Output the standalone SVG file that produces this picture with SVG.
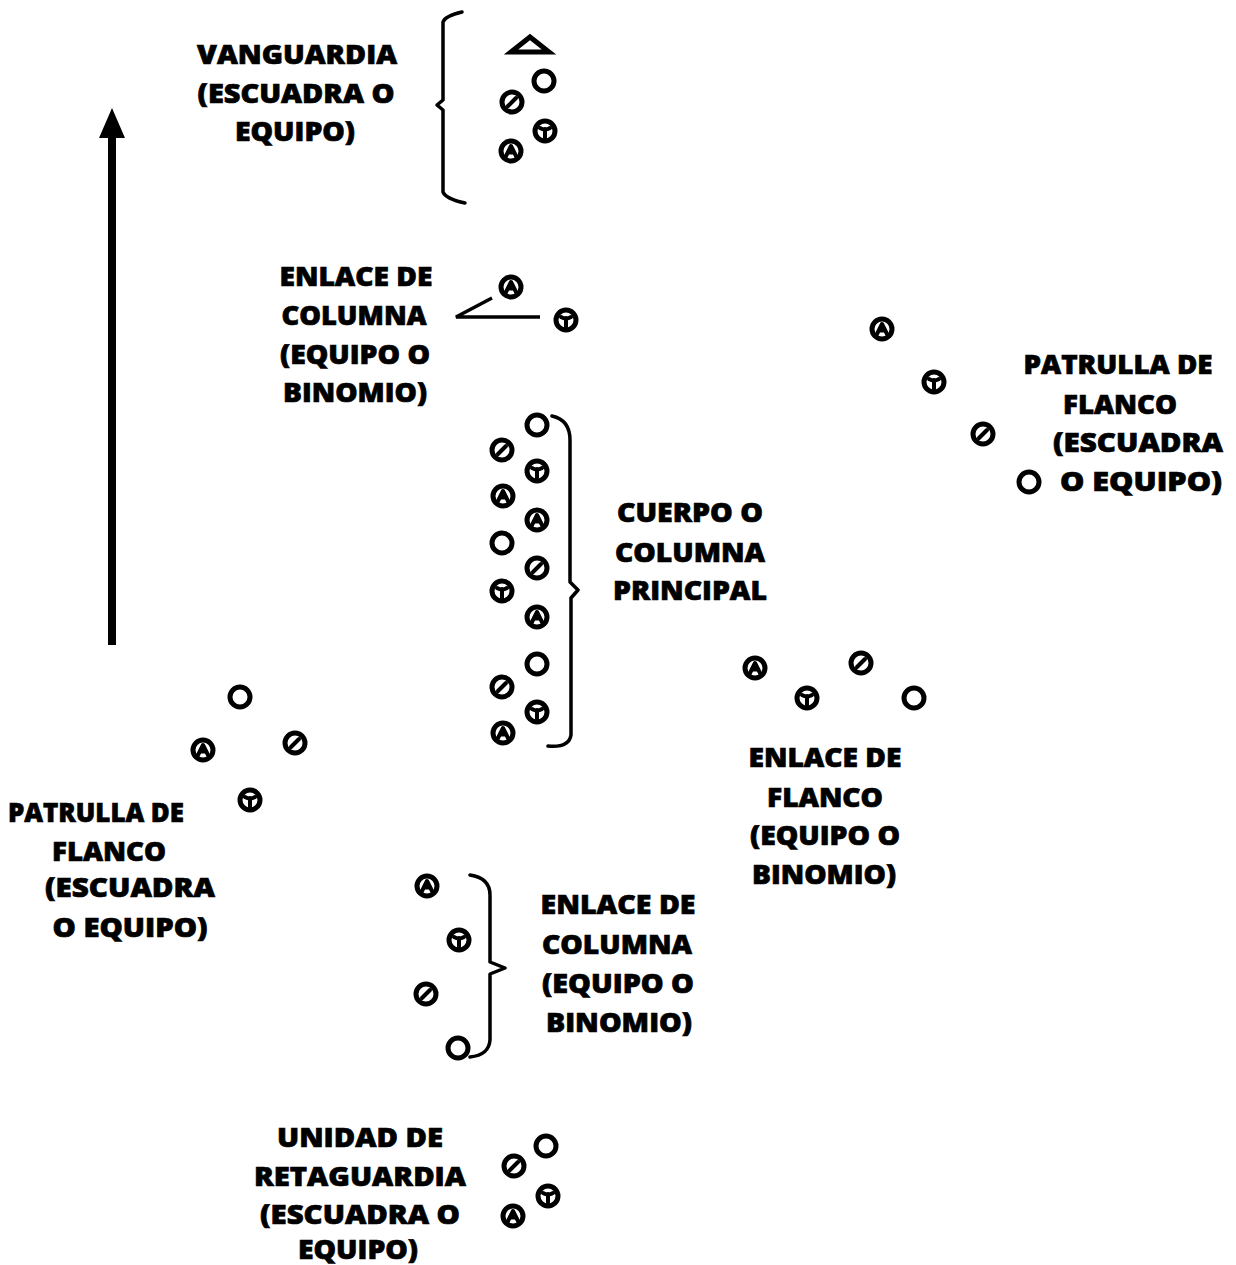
<svg xmlns="http://www.w3.org/2000/svg" xmlns:xlink="http://www.w3.org/1999/xlink" width="1236" height="1265" viewBox="0 0 1236 1265">
<style>
.lbl{font-family:"Open Sans","DejaVu Sans",sans-serif;font-weight:800;font-size:27px;fill:#000;stroke:#000;stroke-width:0.7;text-anchor:middle}
.ring{fill:#fff;stroke:#000;stroke-width:5}
.mk{fill:none;stroke:#000;stroke-width:4;stroke-linecap:round;stroke-linejoin:round}
.brace{fill:none;stroke:#000;stroke-width:3.5;stroke-linecap:round;stroke-linejoin:round}
.ln{fill:none;stroke:#000;stroke-width:3.5}
</style>
<defs>
<g id="s-o"><circle class="ring" r="10"/></g>
<g id="s-slash"><circle class="ring" r="10"/><path class="mk" d="M-4,4 L4,-4"/></g>
<g id="s-t"><circle class="ring" r="10"/><path class="mk" d="M-5,-3 Q0,0 5,-3 M0,-2 V7"/></g>
<g id="s-a"><circle class="ring" r="10"/><path class="mk" d="M-5,5 L0,-5 L5,5 M-3,1.5 H3"/></g>
</defs>
<rect width="1236" height="1265" fill="#fff"/>

<g id="connectors">
<path id="arrow" d="M108,645 V138 H99 L112,108 L125,138 H116 V645 Z" fill="#000"/>
<path class="ln" d="M540,317 H456 L492,298"/>
<path class="brace" d="M462,12 Q445,16 443,22 V100 L437,105 L443,110 V192 Q446,199 465,203"/>
<path class="brace" d="M552,416 Q570,420 570,440 V582 L578,590 L571,598 V735 Q569,748 548,746"/>
<path class="brace" d="M470,875 Q490,878 490,895 V962 L505,968 L490,974 V1040 Q489,1055 470,1057"/>
</g>

<g id="vanguardia">
<polygon points="511,52 530,37 549,52" fill="none" stroke="#000" stroke-width="5" stroke-linejoin="miter"/>
<use xlink:href="#s-o" x="544" y="81"/>
<use xlink:href="#s-slash" x="512" y="102"/>
<use xlink:href="#s-t" x="545" y="131"/>
<use xlink:href="#s-a" x="511" y="151"/>
<text class="lbl" x="297" y="64" textLength="200" lengthAdjust="spacingAndGlyphs">VANGUARDIA</text>
<text class="lbl" x="296" y="103" textLength="197" lengthAdjust="spacingAndGlyphs">(ESCUADRA O</text>
<text class="lbl" x="295" y="141" textLength="120" lengthAdjust="spacingAndGlyphs">EQUIPO)</text>
</g>

<g id="enlace-columna-1">
<use xlink:href="#s-a" x="511" y="287"/>
<use xlink:href="#s-t" x="566" y="320"/>
<text class="lbl" x="356" y="286" textLength="153" lengthAdjust="spacingAndGlyphs">ENLACE DE</text>
<text class="lbl" x="354" y="325" textLength="145" lengthAdjust="spacingAndGlyphs">COLUMNA</text>
<text class="lbl" x="355" y="364" textLength="150" lengthAdjust="spacingAndGlyphs">(EQUIPO O</text>
<text class="lbl" x="355" y="402" textLength="144" lengthAdjust="spacingAndGlyphs">BINOMIO)</text>
</g>

<g id="patrulla-flanco-der">
<use xlink:href="#s-a" x="882" y="329"/>
<use xlink:href="#s-t" x="934" y="382"/>
<use xlink:href="#s-slash" x="983" y="434"/>
<use xlink:href="#s-o" x="1029" y="482"/>
<text class="lbl" x="1118" y="374" textLength="189" lengthAdjust="spacingAndGlyphs">PATRULLA DE</text>
<text class="lbl" x="1120" y="414" textLength="114" lengthAdjust="spacingAndGlyphs">FLANCO</text>
<text class="lbl" x="1138" y="452" textLength="170" lengthAdjust="spacingAndGlyphs">(ESCUADRA</text>
<text class="lbl" x="1141" y="491" textLength="162" lengthAdjust="spacingAndGlyphs">O EQUIPO)</text>
</g>

<g id="cuerpo">
<use xlink:href="#s-o" x="537" y="425"/>
<use xlink:href="#s-t" x="537" y="471"/>
<use xlink:href="#s-a" x="537" y="520"/>
<use xlink:href="#s-slash" x="537" y="568"/>
<use xlink:href="#s-a" x="537" y="617"/>
<use xlink:href="#s-o" x="537" y="664"/>
<use xlink:href="#s-t" x="537" y="712"/>
<use xlink:href="#s-slash" x="502" y="450"/>
<use xlink:href="#s-a" x="503" y="496"/>
<use xlink:href="#s-o" x="502" y="543"/>
<use xlink:href="#s-t" x="502" y="591"/>
<use xlink:href="#s-slash" x="502" y="687"/>
<use xlink:href="#s-a" x="503" y="733"/>
<text class="lbl" x="690" y="522" textLength="146" lengthAdjust="spacingAndGlyphs">CUERPO O</text>
<text class="lbl" x="690" y="562" textLength="150" lengthAdjust="spacingAndGlyphs">COLUMNA</text>
<text class="lbl" x="690" y="600" textLength="154" lengthAdjust="spacingAndGlyphs">PRINCIPAL</text>
</g>

<g id="enlace-flanco">
<use xlink:href="#s-a" x="755" y="668"/>
<use xlink:href="#s-t" x="807" y="698"/>
<use xlink:href="#s-slash" x="861" y="663"/>
<use xlink:href="#s-o" x="914" y="698"/>
<text class="lbl" x="825" y="767" textLength="153" lengthAdjust="spacingAndGlyphs">ENLACE DE</text>
<text class="lbl" x="825" y="807" textLength="116" lengthAdjust="spacingAndGlyphs">FLANCO</text>
<text class="lbl" x="825" y="845" textLength="150" lengthAdjust="spacingAndGlyphs">(EQUIPO O</text>
<text class="lbl" x="824" y="884" textLength="144" lengthAdjust="spacingAndGlyphs">BINOMIO)</text>
</g>

<g id="patrulla-flanco-izq">
<use xlink:href="#s-o" x="240" y="697"/>
<use xlink:href="#s-a" x="203" y="750"/>
<use xlink:href="#s-slash" x="295" y="743"/>
<use xlink:href="#s-t" x="250" y="800"/>
<text class="lbl" x="96" y="822" textLength="176" lengthAdjust="spacingAndGlyphs">PATRULLA DE</text>
<text class="lbl" x="109" y="861" textLength="114" lengthAdjust="spacingAndGlyphs">FLANCO</text>
<text class="lbl" x="130" y="897" textLength="170" lengthAdjust="spacingAndGlyphs">(ESCUADRA</text>
<text class="lbl" x="130" y="937" textLength="155" lengthAdjust="spacingAndGlyphs">O EQUIPO)</text>
</g>

<g id="enlace-columna-2">
<use xlink:href="#s-a" x="427" y="886"/>
<use xlink:href="#s-t" x="459" y="940"/>
<use xlink:href="#s-slash" x="426" y="994"/>
<use xlink:href="#s-o" x="458" y="1048"/>
<text class="lbl" x="618" y="914" textLength="155" lengthAdjust="spacingAndGlyphs">ENLACE DE</text>
<text class="lbl" x="617" y="954" textLength="150" lengthAdjust="spacingAndGlyphs">COLUMNA</text>
<text class="lbl" x="618" y="993" textLength="152" lengthAdjust="spacingAndGlyphs">(EQUIPO O</text>
<text class="lbl" x="619" y="1032" textLength="146" lengthAdjust="spacingAndGlyphs">BINOMIO)</text>
</g>

<g id="retaguardia">
<use xlink:href="#s-o" x="546" y="1146"/>
<use xlink:href="#s-slash" x="514" y="1166"/>
<use xlink:href="#s-t" x="548" y="1196"/>
<use xlink:href="#s-a" x="513" y="1216"/>
<text class="lbl" x="360" y="1147" textLength="166" lengthAdjust="spacingAndGlyphs">UNIDAD DE</text>
<text class="lbl" x="360" y="1186" textLength="212" lengthAdjust="spacingAndGlyphs">RETAGUARDIA</text>
<text class="lbl" x="360" y="1224" textLength="200" lengthAdjust="spacingAndGlyphs">(ESCUADRA O</text>
<text class="lbl" x="358" y="1259" textLength="120" lengthAdjust="spacingAndGlyphs">EQUIPO)</text>
</g>
</svg>
